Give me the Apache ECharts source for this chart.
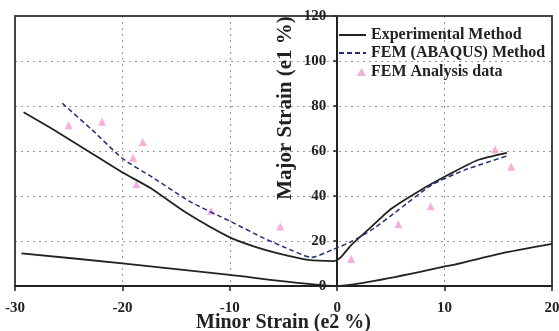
<!DOCTYPE html>
<html>
<head>
<meta charset="utf-8">
<script src="https://cdn.jsdelivr.net/npm/echarts@6/dist/echarts.min.js"></script>
<style>
  html, body { margin: 0; padding: 0; background: #fff; }
  #chart { width: 559px; height: 331px; }
</style>
</head>
<body>
<div id="chart"></div>
<script>
// experimental forming limit curve, upper (U shaped) branch
const expUpper = [
  [-29.2, 77.2], [-26.4, 69.4], [-20.1, 50.8], [-17.35, 43.4],
  [-14.2, 33], [-10, 21.6], [-7.7, 17.5], [-5.5, 14.5], [-2.7, 11.6],
  [-0.3, 11.1], [0.3, 12.6], [1.3, 18.2], [3.2, 26.4], [5, 34.2],
  [7.8, 42.7], [10.3, 49.3], [13.1, 56], [15.8, 59.2]
];
// experimental lower (V shaped) branch
const expLower = [
  [-29.4, 14.5], [-20, 10.1], [-10, 4.9], [0, 0], [10.3, 8.9], [15.3, 14.5], [20, 18.7]
];
// FEM (ABAQUS) curve
const femCurve = [
  [-25.6, 81.2], [-22.8, 69.3], [-20, 56.7], [-17.2, 48.3], [-13.7, 37.5],
  [-9.9, 28.6], [-6.8, 21.2], [-4.3, 16], [-2.4, 12.7], [-0.5, 16],
  [1.3, 19.7], [3.2, 24.9], [5.7, 33.8], [8.8, 44.9], [11.9, 51.6], [15.8, 57.8]
];
// FEM analysis points
const femPoints = [
  [-25, 71.5], [-21.9, 73], [-18.1, 64], [-19, 57], [-18.7, 45.2],
  [-11.75, 33.3], [-5.3, 26.4], [1.3, 12], [5.7, 27.5], [8.7, 35.5],
  [14.7, 60.7], [16.2, 53]
];

const font = 'Liberation Serif';
const ink = '#222';
const frame = {show: true, onZero: false, lineStyle: {color: '#444', width: 2}};
const gridLeft = 15, gridRight = 7, W = 559;
// put the y axis on x = 0 (x runs -30..20)
const yAxisShift = (W - gridLeft - gridRight) * 30 / 50;

// bare axes used only to draw the box round the plot
const frameAxis = (pos, min, max) => ({
  type: 'value', position: pos, min: min, max: max,
  axisLine: frame, axisTick: {show: false}, axisLabel: {show: false}, splitLine: {show: false}
});

let chart = echarts.init(document.getElementById('chart'));
chart.setOption({
  animation: false,
  grid: {
    left: gridLeft, right: gridRight, top: 16, bottom: 45,
    outerBoundsMode: 'none', containLabel: false
  },
  legend: [{
    orient: 'vertical', left: 333, top: 22, itemGap: 2,
    itemWidth: 27, itemHeight: 14,
    itemStyle: {opacity: 0},
    textStyle: {fontFamily: font, fontWeight: 'bold', fontSize: 16, color: ink},
    data: ['Experimental Method', 'FEM (ABAQUS) Method']
  }, {
    orient: 'vertical', left: 352, top: 59,
    itemWidth: 9, itemHeight: 8,
    textStyle: {fontFamily: font, fontWeight: 'bold', fontSize: 16, color: ink},
    data: ['FEM Analysis data']
  }],
  xAxis: [{
    type: 'value', min: -30, max: 20, interval: 10,
    name: 'Minor Strain (e2 %)', nameLocation: 'middle', nameGap: 27,
    nameMoveOverlap: false,
    nameTextStyle: {fontFamily: font, fontWeight: 'bold', fontSize: 20, color: ink},
    axisLine: {onZero: true, lineStyle: {color: ink, width: 2}},
    axisTick: {show: true, length: 5, lineStyle: {color: ink, width: 1.5}},
    axisLabel: {fontFamily: font, fontWeight: 'bold', fontSize: 15, color: ink, margin: 15},
    splitLine: {show: true, lineStyle: {color: '#999', type: [2, 4], width: 1}}
  }, frameAxis('top', -30, 20)],
  yAxis: [{
    type: 'value', min: 0, max: 120, interval: 20,
    position: 'left', offset: -yAxisShift,
    name: 'Major Strain (e1 %)', nameLocation: 'middle', nameGap: 41,
    nameMoveOverlap: false,
    nameTextStyle: {fontFamily: font, fontWeight: 'bold', fontSize: 21, color: ink,
      padding: [0, 0, 0, 86]},
    axisLine: {onZero: false, lineStyle: {color: ink, width: 2}},
    axisTick: {show: true, length: 4, lineStyle: {color: ink, width: 1.5}},
    axisLabel: {fontFamily: font, fontWeight: 'bold', fontSize: 15, color: ink, margin: 11},
    splitLine: {show: true, lineStyle: {color: '#999', type: [2, 4], width: 1}}
  }, frameAxis('right', 0, 120), frameAxis('left', 0, 120)],
  series: [{
    name: 'Experimental Method', type: 'line', data: expUpper,
    smooth: 0.2, showSymbol: false, symbol: 'none',
    lineStyle: {color: ink, width: 1.8}, itemStyle: {color: ink}
  }, {
    name: 'Experimental Method', type: 'line', data: expLower,
    smooth: 0.2, showSymbol: false, symbol: 'none',
    lineStyle: {color: ink, width: 1.8}, itemStyle: {color: ink}
  }, {
    name: 'FEM (ABAQUS) Method', type: 'line', data: femCurve,
    smooth: 0.2, showSymbol: false, symbol: 'none',
    lineStyle: {color: '#23307a', width: 1.5, type: [5, 3]}, itemStyle: {color: '#23307a'}
  }, {
    name: 'FEM Analysis data', type: 'scatter', data: femPoints,
    symbol: 'triangle', symbolSize: 8,
    itemStyle: {color: '#f39ad6'}
  }]
});
</script>
</body>
</html>
